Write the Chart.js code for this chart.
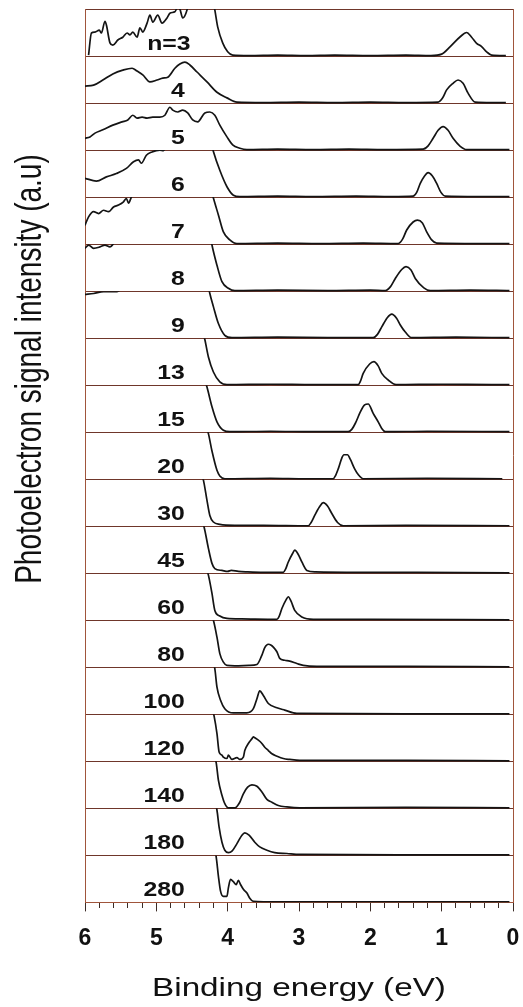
<!DOCTYPE html>
<html>
<head>
<meta charset="utf-8">
<title>Photoelectron spectra</title>
<script src="https://cdn.jsdelivr.net/npm/chart.js@4.4.1/dist/chart.umd.min.js"></script>
<style>
  html, body { margin: 0; padding: 0; background: #fff; }
  #wrap { width: 523px; height: 1007px; }
</style>
</head>
<body>
<div id="wrap"><canvas id="pes-chart" width="523" height="1007"></canvas></div>
<script>
// cluster size shown in each panel, top to bottom
const clusterLabels = ['n=3', '4', '5', '6', '7', '8', '9', '13', '15', '20', '30', '45', '60', '80', '100', '120', '140', '180', '280'];

// [binding energy (eV), intensity in panel units]; values above 1 run off the top of the panel
const spec3 = [[5.95, 0.02], [5.91, 0.49], [5.86, 0.51], [5.80, 0.55], [5.77, 0.49], [5.72, 0.74], [5.70, 0.66], [5.65, 0.28], [5.61, 0.23], [5.54, 0.34], [5.47, 0.40], [5.41, 0.49], [5.37, 0.45], [5.33, 0.51], [5.27, 0.40], [5.23, 0.60], [5.19, 0.51], [5.13, 0.70], [5.09, 0.87], [5.05, 0.72], [4.98, 0.87], [4.92, 0.70], [4.85, 0.81], [4.81, 0.91], [4.74, 0.94], [4.70, 1.04], [4.67, 1.0], [4.63, 0.81], [4.57, 0.98], [4.54, 1.2], [4.45, 1.5], [4.30, 1.5], [4.22, 1.3], [4.18, 0.98], [4.14, 0.62], [4.07, 0.28], [4.00, 0.09], [3.93, 0.02], [3.7, 0.01], [3.3, 0.02], [2.9, 0.01], [2.5, 0.02], [2.0, 0.01], [1.5, 0.02], [1.15, 0.01], [1.0, 0.04], [0.88, 0.20], [0.74, 0.41], [0.65, 0.50], [0.58, 0.40], [0.51, 0.27], [0.44, 0.20], [0.37, 0.09], [0.30, 0.02], [0.1, 0.01]];
const spec4 = [[6.0, 0.36], [5.88, 0.38], [5.75, 0.49], [5.61, 0.62], [5.47, 0.70], [5.34, 0.74], [5.27, 0.68], [5.19, 0.60], [5.09, 0.45], [4.99, 0.49], [4.91, 0.53], [4.84, 0.55], [4.74, 0.74], [4.67, 0.83], [4.60, 0.87], [4.53, 0.81], [4.43, 0.66], [4.29, 0.45], [4.15, 0.23], [4.01, 0.11], [3.87, 0.02], [3.5, 0.01], [3.0, 0.02], [2.5, 0.01], [2.0, 0.02], [1.5, 0.01], [1.05, 0.02], [0.99, 0.10], [0.93, 0.28], [0.84, 0.42], [0.77, 0.49], [0.70, 0.42], [0.63, 0.21], [0.53, 0.02], [0.3, 0.01], [0.1, 0.01]];
const spec5 = [[6.0, 0.25], [5.93, 0.28], [5.86, 0.36], [5.75, 0.43], [5.61, 0.53], [5.48, 0.60], [5.40, 0.64], [5.33, 0.74], [5.27, 0.68], [5.20, 0.70], [5.13, 0.68], [5.05, 0.70], [4.95, 0.70], [4.88, 0.74], [4.81, 0.91], [4.77, 0.85], [4.70, 0.81], [4.63, 0.85], [4.56, 0.79], [4.49, 0.64], [4.42, 0.60], [4.32, 0.79], [4.25, 0.81], [4.18, 0.74], [4.11, 0.53], [4.01, 0.28], [3.93, 0.11], [3.83, 0.04], [3.73, 0.01], [3.3, 0.02], [2.8, 0.01], [2.3, 0.02], [1.8, 0.01], [1.26, 0.02], [1.19, 0.09], [1.12, 0.25], [1.05, 0.42], [0.98, 0.50], [0.91, 0.42], [0.84, 0.25], [0.74, 0.08], [0.65, 0.01], [0.3, 0.01], [0.05, 0.01]];
const spec6 = [[6.0, 0.40], [5.84, 0.34], [5.70, 0.43], [5.56, 0.50], [5.42, 0.61], [5.32, 0.75], [5.25, 0.79], [5.21, 0.72], [5.14, 0.89], [5.06, 0.96], [4.95, 1.0], [4.90, 0.99], [4.85, 1.1], [4.6, 1.3], [4.3, 1.4], [4.23, 1.15], [4.20, 0.97], [4.11, 0.57], [4.01, 0.22], [3.92, 0.04], [3.83, 0.01], [3.3, 0.02], [2.8, 0.01], [2.2, 0.02], [1.7, 0.01], [1.40, 0.02], [1.35, 0.10], [1.30, 0.29], [1.24, 0.45], [1.19, 0.52], [1.13, 0.45], [1.07, 0.29], [1.01, 0.10], [0.95, 0.02], [0.5, 0.01], [0.05, 0.01]];
const spec7 = [[6.0, 0.40], [5.95, 0.58], [5.88, 0.69], [5.81, 0.65], [5.74, 0.72], [5.67, 0.69], [5.60, 0.79], [5.53, 0.83], [5.46, 0.90], [5.42, 0.97], [5.39, 0.87], [5.35, 1.0], [5.3, 1.15], [4.8, 1.4], [4.3, 1.4], [4.23, 1.15], [4.20, 0.98], [4.13, 0.62], [4.06, 0.26], [3.97, 0.09], [3.87, 0.01], [3.3, 0.02], [2.7, 0.01], [2.1, 0.02], [1.61, 0.01], [1.55, 0.10], [1.49, 0.30], [1.40, 0.47], [1.34, 0.51], [1.27, 0.45], [1.21, 0.26], [1.14, 0.09], [1.07, 0.02], [0.5, 0.01], [0.05, 0.01]];
const spec8 = [[6.0, 0.91], [5.95, 0.98], [5.88, 0.91], [5.79, 0.94], [5.72, 0.98], [5.65, 0.94], [5.58, 1.05], [5.4, 1.3], [4.3, 1.4], [4.24, 1.15], [4.22, 0.98], [4.15, 0.55], [4.08, 0.20], [3.99, 0.06], [3.90, 0.01], [3.3, 0.02], [2.6, 0.01], [2.0, 0.02], [1.79, 0.01], [1.72, 0.09], [1.65, 0.27], [1.56, 0.46], [1.50, 0.52], [1.43, 0.45], [1.37, 0.27], [1.25, 0.07], [1.16, 0.01], [0.6, 0.02], [0.05, 0.01]];
const spec9 = [[6.0, 0.93], [5.88, 0.95], [5.74, 0.99], [5.55, 0.99], [5.45, 1.1], [5.0, 1.4], [4.3, 1.4], [4.27, 1.1], [4.25, 0.95], [4.20, 0.67], [4.13, 0.31], [4.04, 0.06], [3.94, 0.01], [3.3, 0.02], [2.6, 0.01], [1.96, 0.01], [1.90, 0.08], [1.84, 0.24], [1.76, 0.44], [1.70, 0.51], [1.63, 0.42], [1.58, 0.28], [1.51, 0.13], [1.42, 0.01], [0.8, 0.02], [0.05, 0.01]];
const spec13 = [[6.0, 1.4], [4.4, 1.4], [4.35, 1.15], [4.32, 0.97], [4.27, 0.60], [4.20, 0.28], [4.11, 0.07], [4.01, 0.01], [3.4, 0.02], [2.8, 0.01], [2.17, 0.01], [2.14, 0.08], [2.10, 0.25], [2.01, 0.45], [1.95, 0.50], [1.89, 0.41], [1.84, 0.25], [1.75, 0.11], [1.64, 0.01], [1.0, 0.02], [0.3, 0.01], [0.05, 0.01]];
const spec15 = [[6.0, 1.4], [4.4, 1.4], [4.33, 1.15], [4.29, 0.96], [4.22, 0.54], [4.15, 0.22], [4.06, 0.04], [3.97, 0.01], [3.4, 0.02], [2.8, 0.01], [2.31, 0.01], [2.26, 0.06], [2.21, 0.19], [2.14, 0.43], [2.08, 0.58], [2.03, 0.60], [1.96, 0.40], [1.89, 0.22], [1.84, 0.08], [1.79, 0.01], [1.2, 0.02], [0.05, 0.01]];
const spec20 = [[6.0, 1.4], [4.4, 1.4], [4.31, 1.15], [4.27, 0.97], [4.22, 0.60], [4.15, 0.19], [4.11, 0.07], [4.04, 0.01], [3.4, 0.02], [2.9, 0.01], [2.52, 0.01], [2.49, 0.07], [2.45, 0.22], [2.40, 0.45], [2.37, 0.52], [2.32, 0.52], [2.28, 0.42], [2.22, 0.22], [2.17, 0.10], [2.10, 0.01], [1.2, 0.02], [0.15, 0.01]];
const spec30 = [[6.0, 1.4], [4.45, 1.4], [4.38, 1.15], [4.34, 0.98], [4.29, 0.55], [4.25, 0.23], [4.20, 0.09], [4.11, 0.04], [3.90, 0.02], [3.5, 0.02], [2.87, 0.01], [2.83, 0.08], [2.78, 0.23], [2.71, 0.42], [2.66, 0.50], [2.60, 0.43], [2.54, 0.27], [2.46, 0.08], [2.38, 0.01], [1.5, 0.02], [0.05, 0.01]];
const spec45 = [[6.0, 1.4], [4.45, 1.4], [4.37, 1.15], [4.33, 0.98], [4.27, 0.53], [4.22, 0.21], [4.18, 0.10], [4.08, 0.06], [4.0, 0.04], [3.95, 0.06], [3.85, 0.04], [3.73, 0.03], [3.5, 0.02], [3.22, 0.02], [3.19, 0.08], [3.15, 0.24], [3.09, 0.42], [3.06, 0.49], [3.01, 0.40], [2.96, 0.24], [2.89, 0.06], [2.77, 0.03], [2.0, 0.02], [0.05, 0.01]];
const spec60 = [[6.0, 1.4], [4.4, 1.4], [4.31, 1.15], [4.27, 0.96], [4.22, 0.57], [4.18, 0.21], [4.11, 0.09], [4.01, 0.04], [3.8, 0.03], [3.31, 0.02], [3.28, 0.08], [3.24, 0.25], [3.18, 0.44], [3.15, 0.50], [3.11, 0.40], [3.06, 0.21], [2.96, 0.07], [2.80, 0.02], [2.0, 0.02], [0.05, 0.01]];
const spec80 = [[6.0, 1.4], [4.35, 1.4], [4.24, 1.15], [4.20, 1.0], [4.15, 0.64], [4.11, 0.29], [4.06, 0.11], [4.01, 0.04], [3.9, 0.03], [3.7, 0.04], [3.59, 0.06], [3.52, 0.26], [3.48, 0.42], [3.43, 0.49], [3.39, 0.47], [3.36, 0.43], [3.31, 0.33], [3.27, 0.19], [3.20, 0.15], [3.13, 0.13], [3.03, 0.08], [2.94, 0.04], [2.75, 0.02], [1.5, 0.02], [0.05, 0.01]];
const spec100 = [[6.0, 1.4], [4.3, 1.4], [4.21, 1.15], [4.18, 0.97], [4.15, 0.58], [4.10, 0.30], [4.04, 0.12], [3.92, 0.03], [3.73, 0.03], [3.64, 0.12], [3.59, 0.33], [3.55, 0.50], [3.50, 0.40], [3.43, 0.23], [3.31, 0.14], [3.20, 0.09], [3.03, 0.02], [1.5, 0.01], [0.05, 0.01]];
const spec120 = [[6.0, 1.4], [4.3, 1.4], [4.22, 1.15], [4.19, 0.96], [4.15, 0.59], [4.12, 0.20], [4.08, 0.13], [4.06, 0.09], [4.01, 0.06], [3.99, 0.13], [3.94, 0.04], [3.87, 0.08], [3.83, 0.04], [3.78, 0.09], [3.76, 0.23], [3.71, 0.38], [3.66, 0.48], [3.64, 0.52], [3.62, 0.50], [3.57, 0.45], [3.52, 0.38], [3.50, 0.34], [3.48, 0.30], [3.43, 0.23], [3.38, 0.16], [3.31, 0.11], [3.22, 0.06], [3.13, 0.04], [2.99, 0.02], [1.5, 0.02], [0.05, 0.01]];
const spec140 = [[6.0, 1.4], [4.3, 1.4], [4.19, 1.15], [4.16, 0.96], [4.13, 0.60], [4.08, 0.28], [4.04, 0.10], [3.99, 0.01], [3.90, 0.01], [3.83, 0.13], [3.78, 0.31], [3.72, 0.45], [3.66, 0.50], [3.59, 0.47], [3.52, 0.35], [3.45, 0.19], [3.38, 0.13], [3.29, 0.06], [3.17, 0.03], [2.99, 0.01], [1.5, 0.02], [0.05, 0.01]];
const spec180 = [[6.0, 1.4], [4.3, 1.4], [4.18, 1.15], [4.15, 0.96], [4.12, 0.60], [4.08, 0.28], [4.04, 0.11], [3.99, 0.06], [3.94, 0.09], [3.87, 0.25], [3.80, 0.43], [3.76, 0.48], [3.70, 0.43], [3.62, 0.28], [3.55, 0.18], [3.45, 0.11], [3.34, 0.06], [3.17, 0.04], [2.99, 0.02], [1.5, 0.01], [0.05, 0.01]];
const spec280 = [[6.0, 1.4], [4.3, 1.4], [4.19, 1.15], [4.16, 0.96], [4.13, 0.56], [4.10, 0.24], [4.06, 0.13], [4.01, 0.13], [3.99, 0.31], [3.96, 0.49], [3.92, 0.44], [3.88, 0.38], [3.85, 0.47], [3.82, 0.38], [3.78, 0.28], [3.73, 0.20], [3.69, 0.09], [3.64, 0.02], [3.5, 0.01], [1.5, 0.01], [0.05, 0.01]];

const spectra = [spec3, spec4, spec5, spec6, spec7, spec8, spec9, spec13, spec15, spec20, spec30, spec45, spec60, spec80, spec100, spec120, spec140, spec180, spec280];

const panelCount = spectra.length;
const LINE_COLOR = '#141414';
const RULE_COLOR = '#6f362a';
const FRAME_COLOR = '#a0553b';
const TEXT_COLOR = '#111';

// each panel sits in its own unit band of the y scale, top panel highest
const datasets = spectra.map((points, i) => {
    const base = panelCount - 1 - i;
    return {
        label: clusterLabels[i],
        data: points.map(([e, v]) => ({ x: e, y: base + v })),
        borderColor: LINE_COLOR,
        borderWidth: 1.7,
        pointRadius: 0,
        cubicInterpolationMode: 'monotone',
        fill: false
    };
});

// keep every trace inside its own panel
const panelClip = {
    id: 'panelClip',
    beforeDatasetDraw(chart, args) {
        const { ctx, chartArea, scales } = chart;
        const base = panelCount - 1 - args.index;
        const top = scales.y.getPixelForValue(base + 1);
        const bottom = scales.y.getPixelForValue(base);
        ctx.save();
        ctx.beginPath();
        ctx.rect(chartArea.left, top, chartArea.right - chartArea.left, bottom - top + 1);
        ctx.clip();
    },
    afterDatasetDraw(chart) {
        chart.ctx.restore();
    }
};

function stretchedText(ctx, text, x, y, sx, sy, angle) {
    ctx.save();
    ctx.translate(x, y);
    if (angle) ctx.rotate(angle);
    ctx.scale(sx, sy);
    ctx.fillText(text, 0, 0);
    ctx.restore();
}

// panel labels and the two axis titles
const panelText = {
    id: 'panelText',
    afterDraw(chart) {
        const { ctx, chartArea, scales } = chart;
        ctx.save();
        ctx.fillStyle = TEXT_COLOR;
        ctx.textBaseline = 'alphabetic';

        ctx.font = 'bold 21px "Liberation Sans", Arial, sans-serif';
        ctx.textAlign = 'right';
        const lx = scales.x.getPixelForValue(4.6);
        clusterLabels.forEach((txt, i) => {
            const base = panelCount - 1 - i;
            // the first label sits a little further right than the rest
            const x = i === 0 ? scales.x.getPixelForValue(4.52) : lx;
            stretchedText(ctx, txt, x, scales.y.getPixelForValue(base + 0.13), 1.18, 1);
        });

        ctx.textAlign = 'center';
        ctx.font = '25px "Liberation Sans", Arial, sans-serif';
        const cx = (chartArea.left + chartArea.right) / 2;
        stretchedText(ctx, 'Binding energy (eV)', cx, chartArea.bottom + 94, 1.33, 1);

        ctx.font = '28px "Liberation Sans", Arial, sans-serif';
        const cy = chartArea.top + 0.403 * (chartArea.bottom - chartArea.top);
        stretchedText(ctx, 'Photoelectron signal intensity (a.u)', 41, cy, 1, 1.33, -Math.PI / 2);
        ctx.restore();
    }
};

const isWhole = v => Math.abs(v - Math.round(v)) < 1e-6;
const isEdge = v => Math.abs(v) < 1e-6 || Math.abs(v - 6) < 1e-6;

new Chart(document.getElementById('pes-chart'), {
    type: 'line',
    data: { datasets: datasets },
    options: {
        responsive: false,
        devicePixelRatio: 1,
        animation: false,
        layout: { padding: { left: 85, right: 10, top: 9, bottom: 42 } },
        plugins: {
            legend: { display: false },
            tooltip: { enabled: false }
        },
        scales: {
            x: {
                type: 'linear',
                reverse: true,
                min: 0,
                max: 6,
                // the frame already leaves room for the end labels
                afterFit: scale => { scale.paddingLeft = 0; scale.paddingRight = 0; },
                border: { color: FRAME_COLOR, width: 1 },
                grid: {
                    color: ctx => (ctx.tick && isEdge(ctx.tick.value)) ? FRAME_COLOR : 'rgba(0,0,0,0)',
                    tickColor: '#3b2b26',
                    tickLength: 9,
                    tickWidth: 1,
                    tickBorderDash: ctx => (ctx.tick && isWhole(ctx.tick.value)) ? [] : [5, 20]
                },
                ticks: {
                    stepSize: 0.2,
                    autoSkip: false,
                    maxRotation: 0,
                    padding: 13,
                    color: TEXT_COLOR,
                    font: { family: '"Liberation Sans", Arial, sans-serif', size: 23, weight: 'bold' },
                    callback: v => isWhole(v) ? String(Math.round(v)) : ''
                }
            },
            y: {
                min: 0,
                max: panelCount,
                border: { color: FRAME_COLOR, width: 1 },
                grid: {
                    color: RULE_COLOR,
                    lineWidth: 1,
                    drawTicks: false
                },
                ticks: { display: false, stepSize: 1 }
            }
        }
    },
    plugins: [panelClip, panelText]
});
</script>
</body>
</html>
